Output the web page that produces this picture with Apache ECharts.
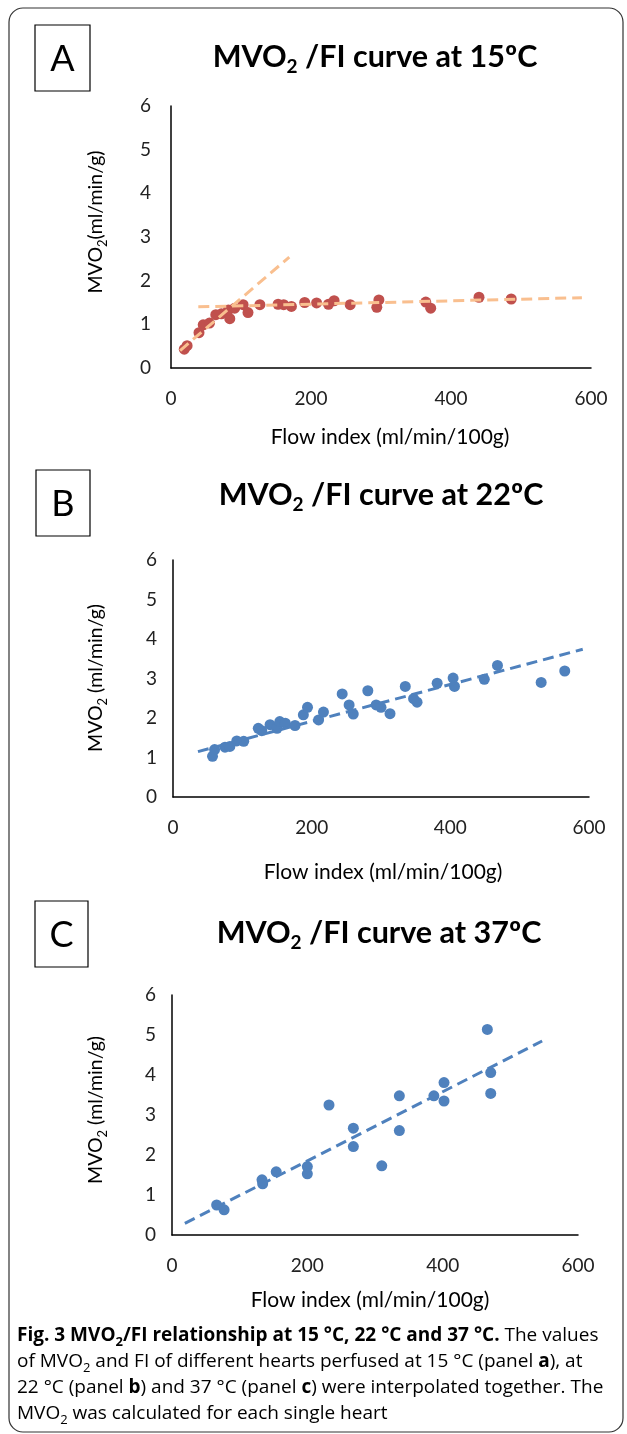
<!DOCTYPE html>
<html>
<head>
<meta charset="utf-8">
<script src="https://cdn.jsdelivr.net/npm/echarts@6/dist/echarts.min.js"></script>
<style>
  html, body { margin: 0; padding: 0; background: #fff; }
  #main { width: 627px; height: 1434px; }
</style>
</head>
<body>
<div id="main"></div>
<script>
// panel A, 15 C
var flowA = [19, 23, 40, 46, 55, 64, 72, 84, 82, 91, 103, 110, 127, 153, 161, 172, 191, 208, 225, 233, 256, 297, 294, 364, 371, 440, 486];
var mvoA  = [0.43, 0.51, 0.81, 0.99, 1.03, 1.22, 1.24, 1.13, 1.33, 1.37, 1.45, 1.27, 1.45, 1.46, 1.45, 1.41, 1.50, 1.49, 1.46, 1.54, 1.45, 1.56, 1.39, 1.51, 1.37, 1.62, 1.58];
var trendA1 = [[13, 0.40], [169, 2.54]];
var trendA2 = [[39, 1.40], [587, 1.61]];

// panel B, 22 C
var flowB = [57, 60, 75, 82, 92, 102, 123, 128, 140, 150, 154, 162, 176, 188, 194, 210, 217, 244, 254, 260, 281, 293, 300, 313, 335, 347, 352, 381, 404, 406, 449, 468, 531, 565];
var mvoB  = [1.03, 1.20, 1.26, 1.28, 1.42, 1.41, 1.74, 1.68, 1.83, 1.74, 1.91, 1.87, 1.81, 2.08, 2.27, 1.95, 2.15, 2.61, 2.33, 2.10, 2.69, 2.33, 2.27, 2.11, 2.80, 2.49, 2.40, 2.88, 3.01, 2.80, 2.98, 3.33, 2.90, 3.19];
var trendB = [[36, 1.15], [591, 3.74]];

// panel C, 37 C
var flowC = [66, 77, 133, 134, 154, 200, 200, 232, 268, 268, 310, 336, 336, 387, 402, 402, 466, 471, 471];
var mvoC  = [0.75, 0.63, 1.38, 1.28, 1.58, 1.71, 1.53, 3.25, 2.67, 2.21, 1.73, 3.48, 2.61, 3.48, 3.81, 3.35, 5.14, 4.06, 3.54];
var trendC = [[19, 0.29], [547, 4.85]];

var xTicks = [0, 200, 400, 600];
var yTicks = [0, 1, 2, 3, 4, 5, 6];

var FONT = 'Lato';
var red = '#C0504D', orange = '#F9BF8F', blue = '#4F81BD';

function zip(xs, ys) { return xs.map((x, i) => [x, ys[i]]) }

var grids = [
    { left: 171, top: 106, width: 420, height: 262 },
    { left: 173, top: 560, width: 416, height: 237 },
    { left: 172, top: 995, width: 406, height: 240 }
];

var xAxes = grids.map((g, i) => ({
    gridIndex: i, type: 'value',
    min: xTicks[0], max: xTicks[xTicks.length - 1], interval: 200,
    axisLine: { lineStyle: { color: '#000', width: 1.5 } },
    axisTick: { show: false },
    splitLine: { show: false },
    axisLabel: { margin: 21, color: '#222', fontFamily: FONT, fontSize: 19 }
}));
var yAxes = grids.map((g, i) => ({
    gridIndex: i, type: 'value',
    min: yTicks[0], max: yTicks[yTicks.length - 1], interval: 1,
    axisLine: { show: true, lineStyle: { color: '#000', width: 1.5 } },
    axisTick: { show: false },
    splitLine: { show: false },
    axisLabel: { margin: i == 0 ? 20 : 16, color: '#222', fontFamily: FONT, fontSize: 19 }
}));

function dots(i, data, color) {
    return { type: 'scatter', xAxisIndex: i, yAxisIndex: i, data: data, symbolSize: 11,
        itemStyle: { color: color, opacity: 1 }, z: 2 };
}
function trend(i, data, color) {
    return { type: 'line', xAxisIndex: i, yAxisIndex: i, data: data, symbol: 'none',
        lineStyle: { color: color, width: 3, type: [11, 6] }, z: 3, silent: true };
}

var titleRich = {
    t: { fontFamily: FONT, fontWeight: 'bold', fontSize: 30.5, lineHeight: 38, color: '#000' },
    s: { fontFamily: FONT, fontWeight: 'bold', fontSize: 19, lineHeight: 22, verticalAlign: 'bottom', color: '#000' }
};
var xNameRich = {
    n: { fontFamily: FONT, fontSize: 21, lineHeight: 26, color: '#222' }
};
var yNameRich = {
    n: { fontFamily: FONT, fontSize: 19.5, lineHeight: 26, color: '#222' },
    s: { fontFamily: FONT, fontSize: 13, lineHeight: 15, verticalAlign: 'bottom', color: '#222' }
};
var capRich = {
    r: { fontFamily: 'Open Sans', fontSize: 19, lineHeight: 25, color: '#231F20' },
    b: { fontFamily: 'Open Sans', fontWeight: 'bold', fontSize: 19, lineHeight: 25, color: '#231F20' },
    rs: { fontFamily: 'Open Sans', fontSize: 13, lineHeight: 16, verticalAlign: 'bottom', color: '#231F20' },
    bs: { fontFamily: 'Open Sans', fontWeight: 'bold', fontSize: 13, lineHeight: 16, verticalAlign: 'bottom', color: '#231F20' }
};

function txt(x, y, text, rich, extra) {
    return Object.assign({ type: 'text', x: x, y: y,
        style: { text: text, rich: rich, align: 'center', verticalAlign: 'middle' } }, extra || {});
}
function letterBox(x, y, w, h, letter) {
    return [
        { type: 'rect', shape: { x: x, y: y, width: w, height: h },
          style: { fill: 'none', stroke: '#000', lineWidth: 1.2 } },
        { type: 'text', x: x + w / 2, y: y + h / 2 + 1,
          style: { text: letter, fontFamily: FONT, fontSize: 36, fill: '#000', align: 'center', verticalAlign: 'middle' } }
    ];
}

var temps = ['15', '22', '37'];
var titleY = [57, 495, 933];
var titleX = [375, 381, 379];
var xNameY = [437, 872, 1300];
var xNameX = [390, 383, 370];
var yNameY = [222, 678, 1110];
var yNameTxt = ['{n|MVO}{s|2}{n|(ml/min/g)}', '{n|MVO}{s|2}{n| (ml/min/g)}', '{n|MVO}{s|2}{n| (ml/min/g)}'];
var boxes = [[35, 25, 55, 66, 'A'], [36, 470, 54, 66, 'B'], [35, 901, 53, 66, 'C']];

var graphics = [
    { type: 'rect', shape: { x: 9, y: 8, width: 614, height: 1424, r: 14 },
      style: { fill: 'none', stroke: '#333', lineWidth: 1.2 } }
];
boxes.forEach(b => { graphics = graphics.concat(letterBox(b[0], b[1], b[2], b[3], b[4])) });
temps.forEach((t, i) => {
    graphics.push(txt(titleX[i], titleY[i], '{t|MVO}{s|2}{t| /FI curve at ' + t + 'ºC}', titleRich));
    graphics.push(txt(xNameX[i], xNameY[i], '{n|Flow index (ml/min/100g)}', xNameRich));
    graphics.push(txt(96, yNameY[i], yNameTxt[i], yNameRich, { rotation: Math.PI / 2 }));
});

var capLines = [
    '{b|Fig. 3 MVO}{bs|2}{b|/FI relationship at 15 °C, 22 °C and 37 °C.}{r| The values}',
    '{r|of MVO}{rs|2}{r| and FI of different hearts perfused at 15 °C (panel }{b|a}{r|), at}',
    '{r|22 °C (panel }{b|b}{r|) and 37 °C (panel }{b|c}{r|) were interpolated together. The}',
    '{r|MVO}{rs|2}{r| was calculated for each single heart}'
];
var capY = [1336, 1362, 1388, 1414];
capLines.forEach((l, i) => {
    graphics.push({ type: 'text', x: 17, y: capY[i],
        style: { text: l, rich: capRich, align: 'left', verticalAlign: 'middle' } });
});

var chart = echarts.init(document.getElementById('main'), null, { renderer: 'canvas' });
chart.setOption({
    animation: false,
    grid: grids,
    xAxis: xAxes,
    yAxis: yAxes,
    series: [
        dots(0, zip(flowA, mvoA), red),
        trend(0, trendA1, orange),
        trend(0, trendA2, orange),
        dots(1, zip(flowB, mvoB), blue),
        trend(1, trendB, blue),
        dots(2, zip(flowC, mvoC), blue),
        trend(2, trendC, blue)
    ],
    graphic: graphics
});
</script>
</body>
</html>
